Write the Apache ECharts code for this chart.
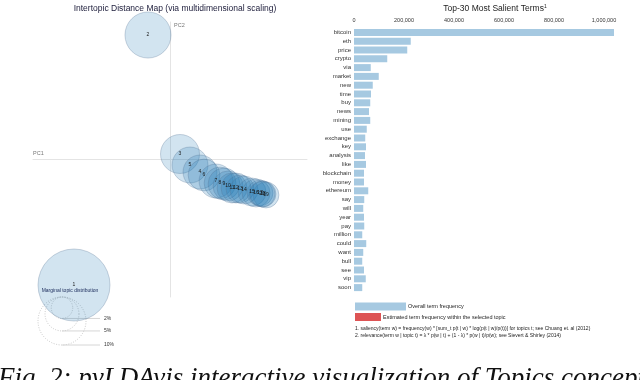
<!DOCTYPE html>
<html>
<head>
<meta charset="utf-8">
<script src="https://cdn.jsdelivr.net/npm/echarts@6/dist/echarts.min.js"></script>
<style>
  html, body { margin: 0; padding: 0; background: #fff; }
  #chart { width: 640px; height: 380px; }
</style>
</head>
<body>
<div id="chart"></div>
<script>
// topics: id, position on PC1 / PC2, share of tokens (%)
const topicIds = [1, 2, 3, 5, 4, 6, 7, 8, 9, 10, 11, 12, 13, 14, 15, 16, 17, 18, 19, 20]
const topicPC1 = [-0.192, -0.044, 0.020, 0.040, 0.060, 0.068, 0.092, 0.100, 0.108, 0.116, 0.124, 0.132, 0.140, 0.148, 0.164, 0.172, 0.180, 0.186, 0.192, 0.184]
const topicPC2 = [-0.251, 0.249, 0.011, -0.011, -0.025, -0.031, -0.043, -0.047, -0.049, -0.053, -0.057, -0.057, -0.059, -0.061, -0.065, -0.067, -0.067, -0.069, -0.071, -0.069]
const topicShare = [22.5, 9.2, 6.6, 5.6, 5.0, 4.4, 5.0, 4.4, 4.4, 3.9, 3.9, 3.9, 3.4, 3.4, 3.4, 3.4, 2.9, 2.9, 2.9, 2.9]
const guidePercents = [2, 5, 10]

// top-30 salient terms
const termNames = ['bitcoin', 'eth', 'price', 'crypto', 'via', 'market', 'new', 'time', 'buy', 'news',
  'mining', 'use', 'exchange', 'key', 'analysis', 'like', 'blockchain', 'money', 'ethereum', 'say',
  'will', 'year', 'pay', 'million', 'could', 'want', 'bull', 'see', 'vip', 'soon']
const termSaliency = [1040000, 227000, 213000, 133000, 67000, 99000, 75000, 68000, 65000, 60000,
  65000, 51000, 45000, 48000, 44000, 48000, 40000, 40000, 57000, 41000,
  37000, 40000, 41000, 33000, 49000, 37000, 33000, 40000, 47000, 33000]

const chart = echarts.init(document.getElementById('chart'))

// radius in px for a 10% topic
const R10 = 24
const radiusOf = p => R10 * Math.sqrt(p / 10)

const font = 'Liberation Sans, Arial, sans-serif'
const bubbleData = topicIds.map((id, i) => [topicPC1[i], topicPC2[i], topicShare[i], id])

// guide circles (legend of bubble sizes), top aligned
const guideX = 62
const guideTop = 297
const guideGraphics = []
guidePercents.forEach(p => {
  const r = radiusOf(p)
  guideGraphics.push({
    type: 'circle', shape: { cx: guideX, cy: guideTop + r, r: r }, z: 1,
    style: { fill: 'none', stroke: '#bbb', lineWidth: 0.8, lineDash: [1, 1.5] }
  })
  guideGraphics.push({
    type: 'line', shape: { x1: guideX, y1: guideTop + 2 * r, x2: 100, y2: guideTop + 2 * r }, z: 1,
    style: { stroke: '#ccc', lineWidth: 0.8 }
  })
  guideGraphics.push({
    type: 'text', x: 104, y: guideTop + 2 * r, z: 1,
    style: { text: p + '%', font: '5px ' + font, fill: '#333', verticalAlign: 'middle' }
  })
})

const option = {
  backgroundColor: '#fff',
  animation: false,
  title: [
    {
      text: 'Intertopic Distance Map (via multidimensional scaling)',
      left: 170, top: -1, textAlign: 'center',
      textStyle: { fontSize: 8.5, fontWeight: 'normal', color: '#1c1c3a', fontFamily: font }
    },
    {
      text: 'Top-30 Most Salient Terms{sup|1}',
      left: 490, top: -1, textAlign: 'center',
      textStyle: {
        fontSize: 8.5, fontWeight: 'normal', color: '#222', fontFamily: font,
        rich: { sup: { fontSize: 5, verticalAlign: 'top', padding: [0, 0, 5, 0], color: '#222' } }
      }
    }
  ],
  grid: [
    { left: 33, top: 22, width: 274, height: 275 },
    { left: 354, top: 28, width: 260, height: 264 }
  ],
  xAxis: [
    {
      gridIndex: 0, type: 'value', min: -0.274, max: 0.274,
      name: 'PC1', nameLocation: 'start', nameGap: 0,
      nameTextStyle: { fontSize: 5.5, color: '#777', align: 'left', verticalAlign: 'bottom', padding: [0, 0, 3, 0], fontFamily: font },
      axisLine: { onZero: true, lineStyle: { color: '#e4e4e4', width: 1 } },
      axisTick: { show: false }, axisLabel: { show: false }, splitLine: { show: false }
    },
    {
      gridIndex: 1, type: 'value', position: 'top', min: 0, max: 1040000, interval: 200000,
      axisLine: { show: false }, axisTick: { show: false }, splitLine: { show: false },
      axisLabel: {
        fontSize: 5.5, color: '#333', margin: 5, fontFamily: font,
        formatter: v => (v % 200000 === 0 ? v.toLocaleString('en-US') : '')
      }
    }
  ],
  yAxis: [
    {
      gridIndex: 0, type: 'value', min: -0.275, max: 0.275,
      name: 'PC2', nameLocation: 'end', nameGap: 0,
      nameTextStyle: { fontSize: 5.5, color: '#777', align: 'left', verticalAlign: 'top', padding: [0, 0, 0, 4], fontFamily: font },
      axisLine: { onZero: true, lineStyle: { color: '#e4e4e4', width: 1 } },
      axisTick: { show: false }, axisLabel: { show: false }, splitLine: { show: false }
    },
    {
      gridIndex: 1, type: 'category', inverse: true, data: termNames,
      axisLine: { show: false }, axisTick: { show: false },
      axisLabel: { fontSize: 6, color: '#333', margin: 3, fontFamily: font }
    }
  ],
  series: [
    {
      type: 'scatter', xAxisIndex: 0, yAxisIndex: 0,
      data: bubbleData,
      symbolSize: d => 2 * radiusOf(d[2]),
      itemStyle: { color: 'rgba(31,119,180,0.2)', borderColor: 'rgba(90,120,150,0.4)', borderWidth: 0.8, opacity: 1 },
      label: {
        show: true, position: 'inside', formatter: p => p.data[3],
        fontSize: 5, color: '#1a1a1a', fontFamily: font
      },
      z: 3
    },
    {
      type: 'bar', xAxisIndex: 1, yAxisIndex: 1,
      data: termSaliency, barWidth: 7,
      itemStyle: { color: 'rgb(166,201,225)' }
    }
  ],
  graphic: guideGraphics.concat([
    {
      type: 'text', x: 70, y: 291, z: 5,
      style: { text: 'Marginal topic distribution', font: '5px ' + font, fill: '#1a2a5a', align: 'center', verticalAlign: 'middle' }
    },
    { type: 'rect', shape: { x: 355, y: 302.5, width: 51, height: 8 }, style: { fill: 'rgb(166,201,225)' } },
    {
      type: 'text', x: 408, y: 306.5,
      style: { text: 'Overall term frequency', font: '5.5px ' + font, fill: '#222', verticalAlign: 'middle' }
    },
    { type: 'rect', shape: { x: 355, y: 313, width: 26, height: 8 }, style: { fill: 'rgb(221,84,85)' } },
    {
      type: 'text', x: 383, y: 317,
      style: { text: 'Estimated term frequency within the selected topic', font: '5.5px ' + font, fill: '#222', verticalAlign: 'middle' }
    },
    {
      type: 'text', x: 355, y: 328.5,
      style: { text: '1. saliency(term w) = frequency(w) * [sum_t p(t | w) * log(p(t | w)/p(t))] for topics t; see Chuang et. al (2012)', font: '5px ' + font, fill: '#222', verticalAlign: 'middle' }
    },
    {
      type: 'text', x: 355, y: 336,
      style: { text: '2. relevance(term w | topic t) = \u03bb * p(w | t) + (1 - \u03bb) * p(w | t)/p(w); see Sievert & Shirley (2014)', font: '5px ' + font, fill: '#222', verticalAlign: 'middle' }
    },
    {
      type: 'text', x: -2, y: 365,
      style: { text: 'Fig. 2: pyLDAvis interactive visualization of Topics concept', font: 'italic 27px Liberation Serif, serif', fill: '#111', verticalAlign: 'top' }
    }
  ])
}

chart.setOption(option)
window.addEventListener('resize', () => chart.resize())
</script>
</body>
</html>
